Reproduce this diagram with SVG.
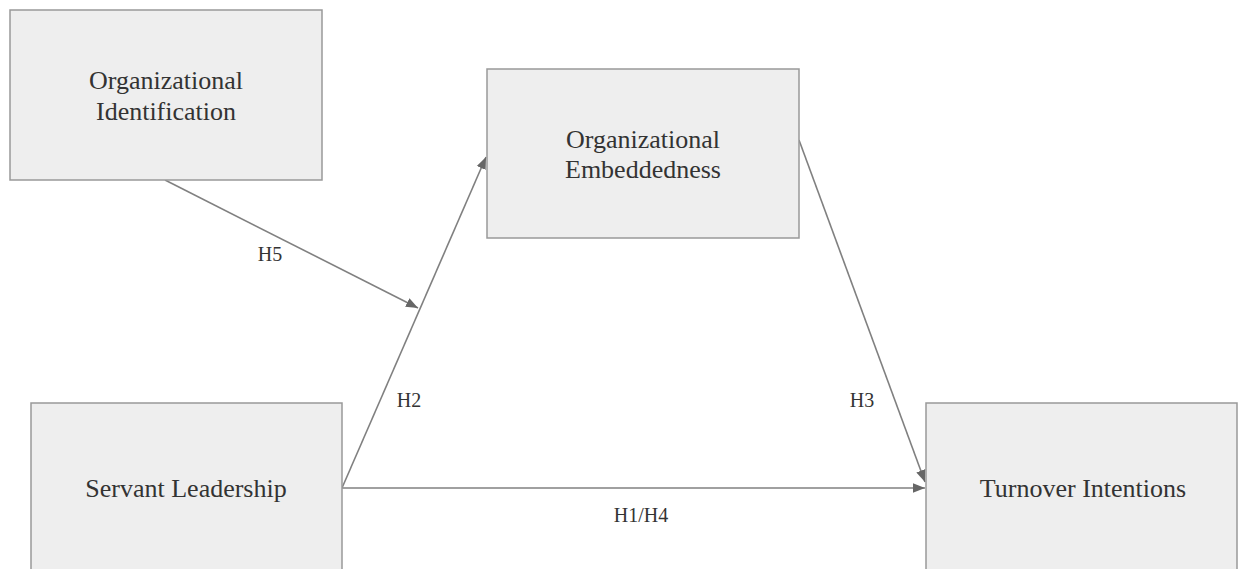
<svg xmlns="http://www.w3.org/2000/svg" width="1238" height="569" viewBox="0 0 1238 569">
<style>
.box{fill:#eeeeee;stroke:#999999;stroke-width:1.5}
.t{font-family:"Liberation Serif","Times New Roman",serif;font-size:26px;fill:#333333;text-anchor:middle}
.l{font-family:"Liberation Serif","Times New Roman",serif;font-size:20px;fill:#333333;text-anchor:middle}
.c{stroke:#808080;stroke-width:1.6;fill:none;marker-end:url(#ah)}
</style>
<defs>
<marker id="ah" viewBox="0 0 10 10" refX="10" refY="5" markerWidth="12" markerHeight="12" markerUnits="userSpaceOnUse" orient="auto">
<path d="M0,1 L10,5 L0,9 Z" fill="#666666"/>
</marker>
</defs>
<rect width="1238" height="569" fill="#ffffff"/>
<g id="connectors">
<line class="c" x1="342" y1="488" x2="925" y2="488"/>
<line class="c" x1="342" y1="488" x2="486" y2="157"/>
<line class="c" x1="799" y1="140" x2="925" y2="482"/>
<line class="c" x1="165" y1="180" x2="418" y2="308"/>
<text class="l" x="270" y="261">H5</text>
<text class="l" x="409" y="407">H2</text>
<text class="l" x="862" y="407">H3</text>
<text class="l" x="641" y="522">H1/H4</text>
</g>
<g id="node-identification">
<rect class="box" x="10" y="10" width="312" height="170"/>
<text class="t" x="166" y="89">Organizational</text>
<text class="t" x="166" y="120">Identification</text>
</g>
<g id="node-embeddedness">
<rect class="box" x="487" y="69" width="312" height="169"/>
<text class="t" x="643" y="148">Organizational</text>
<text class="t" x="643" y="178">Embeddedness</text>
</g>
<g id="node-servant">
<rect class="box" x="31" y="403" width="311" height="180"/>
<text class="t" x="186" y="497">Servant Leadership</text>
</g>
<g id="node-turnover">
<rect class="box" x="926" y="403" width="311" height="180"/>
<text class="t" x="1083" y="497">Turnover Intentions</text>
</g>
</svg>
